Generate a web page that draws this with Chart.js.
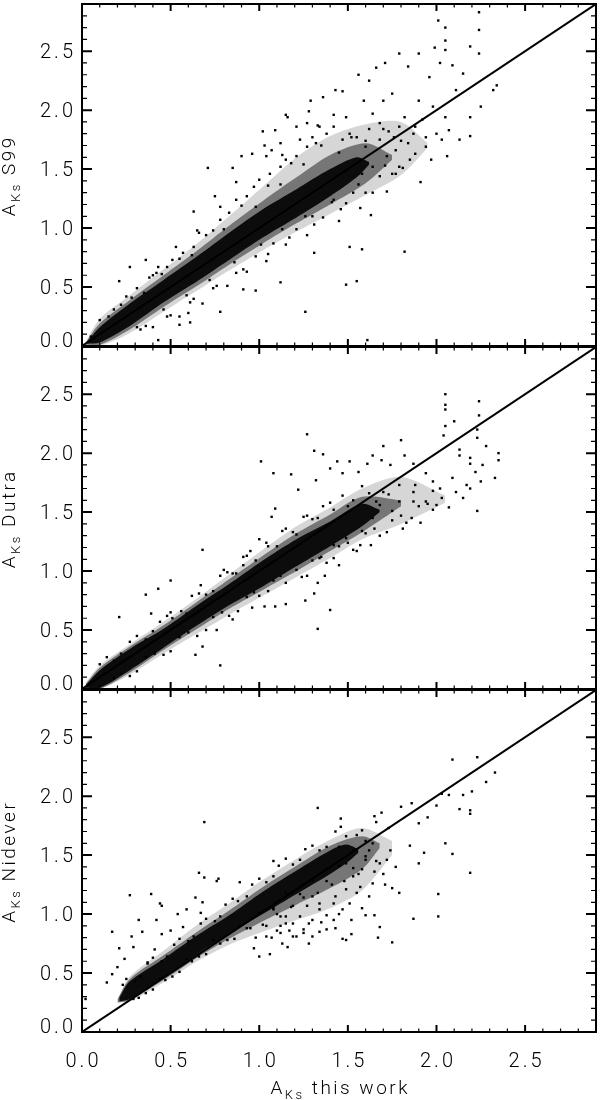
<!DOCTYPE html>
<html>
<head>
<meta charset="utf-8">
<script src="https://cdn.jsdelivr.net/npm/chart.js@4.4.1/dist/chart.umd.min.js"></script>
<style>
  html, body { margin: 0; padding: 0; background: #fff; }
  #wrap { position: relative; width: 600px; height: 1100px; }
  #wrap canvas { position: absolute; left: 0; }
</style>
</head>
<body>
<div id="wrap">
  <canvas id="p1" width="600" height="350" style="top:0px"></canvas>
  <canvas id="p2" width="600" height="350" style="top:343px"></canvas>
  <canvas id="p3" width="600" height="414" style="top:686px"></canvas>
</div>
<script>
// axis ticks / labels
const tickValues = [0, 0.5, 1.0, 1.5, 2.0, 2.5];
const tickLabels = ['0.0', '0.5', '1.0', '1.5', '2.0', '2.5'];
const axisMax = 2.9;
const panelNames = ['S99', 'Dutra', 'Nidever'];
const xTitleRest = ' this work';

// one-to-one line
const oneToOneX = [0, 2.9];
const oneToOneY = [0, 2.9];

// --- S99 panel: dense core, medium and thin envelopes, single stars ---
const s99CoreX  = [0.03, 0.10, 0.27, 0.46, 0.65, 0.83, 1.02, 1.21, 1.40, 1.55, 1.62];
const s99CoreLo = [0.02, 0.03, 0.17, 0.37, 0.55, 0.73, 0.92, 1.09, 1.27, 1.43, 1.54];
const s99CoreHi = [0.04, 0.16, 0.36, 0.56, 0.76, 0.96, 1.16, 1.33, 1.50, 1.60, 1.56];
const s99MidX   = [0.02, 0.10, 0.27, 0.46, 0.65, 0.83, 1.02, 1.21, 1.40, 1.60, 1.75];
const s99MidLo  = [0.01, 0.01, 0.14, 0.33, 0.51, 0.69, 0.87, 1.04, 1.20, 1.38, 1.58];
const s99MidHi  = [0.03, 0.19, 0.39, 0.60, 0.81, 1.02, 1.23, 1.43, 1.62, 1.72, 1.62];
const s99HaloX  = [0.02, 0.10, 0.27, 0.46, 0.65, 0.83, 1.02, 1.21, 1.40, 1.60, 1.80, 1.95];
const s99HaloLo = [0.01, 0.00, 0.11, 0.29, 0.47, 0.64, 0.81, 0.97, 1.12, 1.28, 1.45, 1.68];
const s99HaloHi = [0.03, 0.23, 0.43, 0.65, 0.87, 1.10, 1.35, 1.60, 1.78, 1.88, 1.90, 1.72];
const s99Points = [
  [0.21,0.55],[0.36,0.73],[0.43,0.67],[0.40,0.60],[0.43,0.05],[0.55,0.18],[0.61,0.20],[0.60,0.28],[0.78,0.29],[0.63,1.14],
  [0.71,1.51],[0.75,1.27],[0.85,1.51],[0.91,0.48],[0.98,0.47],[1.12,0.54],[1.26,0.29],[1.31,0.79],[1.49,0.52],[1.55,0.55],
  [1.51,0.84],[1.58,0.82],[1.61,0.05],[1.63,1.11],[1.82,0.80],[1.91,1.39],[2.06,1.61],[2.19,1.78],[2.24,2.83],[2.01,2.76],
  [2.05,2.70],[2.05,2.59],[2.05,2.51],[1.99,2.53],[2.24,2.68],[2.19,2.54],[2.24,2.48],[1.90,2.48],[1.79,2.48],[1.71,2.40],
  [1.66,2.36],[1.56,2.30],[1.62,2.25],[1.84,2.37],[1.96,2.28],[2.02,2.40],[2.09,2.38],[2.15,2.31],[2.32,2.17],[2.25,2.03],
  [2.34,2.21],[2.19,1.94],[2.13,1.75],[2.07,1.83],[2.03,1.75],[1.97,1.58],[1.94,1.69],[1.87,1.80],[1.79,1.52],[1.43,2.17],
  [1.47,2.16],[1.36,2.11],[1.29,2.08],[1.16,1.94],[1.02,1.82],[1.09,1.83],[1.03,1.70],[0.96,1.63],[0.90,1.61],[1.07,1.66],
  [1.13,1.62],[1.27,1.89],[1.30,1.77],[1.34,1.86],[1.42,1.96],[1.49,1.94],[1.51,1.80],[1.59,2.08],[1.64,1.97],[1.70,2.08],
  [1.75,2.14],[1.82,1.94],[1.76,1.77],[1.68,1.75],[1.60,1.69],[1.92,1.92],[1.98,2.03],[1.90,2.08],[2.11,2.17],
  [1.15,1.96],[1.21,1.86],[1.28,1.99],[1.33,1.87],[1.38,1.80],[1.42,1.86],[1.47,1.75],[1.55,1.77],[1.62,1.84],[1.68,1.89],
  [1.73,1.82],[1.79,1.86],[1.84,1.72],[1.88,1.63],[1.94,1.77],[2.00,1.80],[2.05,1.94],[1.85,1.58],[1.77,1.66],[1.72,1.61],
  [1.64,1.52],[1.58,1.46],[1.68,1.44],[1.75,1.46],[1.81,1.51],[1.72,1.31],[1.64,1.30],[1.57,1.17],[1.49,1.21],[1.45,1.06],
  [1.53,1.30],[1.42,1.24],[1.36,1.09],[1.30,1.10],[1.27,0.94],[1.21,0.99],[1.15,0.86],[1.08,0.87],[1.04,0.72],[0.98,0.76],
  [0.93,0.63],[0.87,0.62],[0.82,0.51],[0.74,0.49],[0.68,0.36],[0.61,0.37],[0.55,0.25],[0.48,0.25],[0.40,0.16],[0.33,0.14],
  [0.18,0.31],[0.25,0.42],[0.31,0.49],[0.35,0.45],[0.42,0.62],[0.48,0.67],[0.51,0.73],[0.57,0.79],[0.63,0.84],[0.66,0.96],
  [0.74,0.98],[0.78,1.07],[0.83,1.13],[0.87,1.24],[0.93,1.27],[0.97,1.35],[1.00,1.41],[1.06,1.46],[1.12,1.52],[1.15,1.58],
  [1.21,1.61],[1.27,1.69],[1.32,1.72],[1.23,1.75],[1.12,1.72],[1.04,1.61],[0.87,1.39],[0.78,1.18],[0.65,0.98],[0.53,0.84],
  [0.27,0.67],[0.10,0.22],[0.05,0.08],
  [0.15,0.25],[0.22,0.35],[0.31,0.16],[0.36,0.17],[0.46,0.31],[0.50,0.26],[0.59,0.43],[0.63,0.40],[0.72,0.56],[0.76,0.51],
  [0.86,0.71],[0.91,0.65],[1.01,0.86],[1.05,0.78],[1.13,0.99],[1.17,0.92],[1.26,1.10],[1.31,1.03],[1.41,1.22],[1.46,1.16],
  [1.56,1.37],[1.60,1.30],[1.71,1.53],[1.77,1.46],[0.28,0.41],[0.38,0.58],[0.45,0.61],[0.55,0.74],[0.62,0.77],[0.70,0.94],
  [0.80,0.99],[0.90,1.19],[0.98,1.18],[1.05,1.36],[1.12,1.37],[1.18,1.55],[1.25,1.54],[1.35,1.70],[1.45,1.64],[1.52,1.77],
  [1.60,1.74],[1.70,1.84],[1.80,1.74],[1.88,1.86]
];

// --- Dutra panel ---
const dutraCoreX  = [0.02, 0.10, 0.27, 0.46, 0.65, 0.83, 1.02, 1.21, 1.40, 1.58, 1.68];
const dutraCoreLo = [0.01, 0.01, 0.16, 0.35, 0.54, 0.71, 0.87, 1.04, 1.21, 1.38, 1.50];
const dutraCoreHi = [0.03, 0.16, 0.34, 0.51, 0.71, 0.89, 1.09, 1.27, 1.42, 1.57, 1.52];
const dutraMidX   = [0.02, 0.10, 0.27, 0.46, 0.65, 0.83, 1.02, 1.21, 1.40, 1.58, 1.80];
const dutraMidLo  = [0.00, 0.00, 0.14, 0.33, 0.51, 0.68, 0.84, 1.00, 1.17, 1.33, 1.55];
const dutraMidHi  = [0.04, 0.18, 0.36, 0.54, 0.74, 0.93, 1.13, 1.32, 1.48, 1.63, 1.60];
const dutraHaloX  = [0.02, 0.10, 0.27, 0.46, 0.65, 0.83, 1.02, 1.21, 1.40, 1.58, 1.80, 2.05];
const dutraHaloLo = [0.00, 0.00, 0.12, 0.30, 0.47, 0.63, 0.79, 0.95, 1.11, 1.27, 1.40, 1.58];
const dutraHaloHi = [0.05, 0.20, 0.38, 0.57, 0.77, 0.97, 1.18, 1.38, 1.54, 1.70, 1.80, 1.64];
const dutraPoints = [
  [0.21,0.61],[0.36,0.80],[0.39,0.64],[0.43,0.85],[0.50,0.92],[0.50,0.65],[0.67,0.88],[0.68,1.18],[0.64,0.29],[0.78,0.20],
  [0.68,0.36],[0.76,0.50],[1.01,1.93],[1.08,1.83],[1.18,1.82],[1.22,1.69],[1.27,2.16],[1.31,2.02],[1.36,1.99],[1.32,1.77],
  [1.40,1.87],[1.44,1.93],[1.47,1.83],[1.51,1.93],[1.56,1.84],[1.61,1.91],[1.64,1.98],[1.70,2.06],[1.80,2.11],[1.69,1.94],
  [1.74,1.90],[1.82,1.98],[1.87,1.91],[2.05,2.50],[2.05,2.41],[2.05,2.37],[2.05,2.23],[2.10,2.27],[2.04,2.15],[2.24,2.44],
  [2.24,2.32],[2.23,2.20],[2.23,2.13],[2.28,2.06],[2.35,2.00],[2.35,1.94],[2.33,1.79],[2.25,1.76],[2.19,1.70],[2.19,1.91],
  [2.19,1.96],[2.15,1.62],[2.23,1.51],[2.07,1.54],[2.13,1.98],[2.13,2.03],[1.91,1.41],[1.81,1.36],[1.63,1.22],[1.55,1.17],
  [1.45,1.05],[1.40,0.67],[1.33,0.51],[1.31,0.81],[1.26,0.75],[1.37,0.96],[1.33,0.90],[1.15,0.72],[1.09,0.70],[1.03,0.70],
  [0.96,0.69],[0.85,0.59],[1.07,1.46],[1.09,1.53],[1.00,1.27],[0.91,1.12],[0.80,1.01],[0.91,1.05],[1.94,1.59],[1.98,1.68],
  [2.03,1.62],[1.87,1.59],[1.88,1.73],[1.98,1.76],[1.94,1.83],[1.79,1.73],[1.79,1.59],[1.75,1.51],[1.68,1.56],[1.64,1.45],
  [1.58,1.34],[1.49,1.28],[1.42,1.22],[1.34,1.11],
  [0.10,0.21],[0.18,0.24],[0.27,0.40],[0.36,0.42],[0.44,0.57],[0.51,0.60],[0.59,0.64],[0.66,0.81],[0.74,0.83],[0.82,0.99],
  [0.87,0.98],[0.93,1.13],[0.98,1.09],[1.04,1.24],[1.10,1.21],[1.15,1.36],[1.21,1.31],[1.27,1.47],[1.30,1.44],[1.36,1.55],
  [1.42,1.52],[1.47,1.64],[1.53,1.60],[1.58,1.72],[1.62,1.66],[1.66,1.59],[1.70,1.67],[1.73,1.65],[0.18,0.09],[0.27,0.11],
  [0.36,0.27],[0.46,0.29],[0.55,0.44],[0.65,0.45],[0.74,0.61],[0.83,0.62],[0.93,0.78],[1.00,0.79],[1.08,0.92],[1.15,0.90],
  [1.21,1.01],[1.27,0.96],[1.30,1.09],[1.38,1.07],[1.45,1.21],[1.53,1.18],[1.60,1.32],[1.68,1.30],[1.75,1.43],[1.83,1.41],
  [1.90,1.55],[1.98,1.52],[1.87,1.67],[2.02,1.70],[2.09,1.79],[2.11,1.67],[2.17,1.73],[2.22,1.84],[2.26,1.90],
  [0.14,0.27],[0.22,0.30],[0.31,0.45],[0.40,0.49],[0.48,0.62],[0.56,0.66],[0.62,0.79],[0.70,0.80],[0.78,0.96],[0.85,0.98],
  [0.95,1.17],[1.05,1.21],[1.13,1.34],[1.19,1.33],[1.25,1.46],[1.33,1.45],[1.40,1.58],[1.50,1.55],[0.22,0.13],[0.31,0.15],
  [0.41,0.30],[0.50,0.32],[0.60,0.48],[0.70,0.50],[0.79,0.65],[0.88,0.66],[0.97,0.82],[1.05,0.83],[1.12,0.96],[1.24,0.95],
  [1.35,1.12],[1.42,1.11],[1.50,1.24],[1.57,1.22],[1.65,1.36],[1.72,1.33],[1.80,1.47],[1.86,1.45],[1.95,1.57],[2.00,1.56]
];

// --- Nidever panel ---
const nideverCoreX  = [0.21, 0.27, 0.46, 0.65, 0.83, 1.02, 1.21, 1.40, 1.49, 1.56];
const nideverCoreLo = [0.26, 0.28, 0.46, 0.66, 0.83, 1.00, 1.17, 1.34, 1.43, 1.52];
const nideverCoreHi = [0.29, 0.43, 0.62, 0.82, 0.99, 1.19, 1.37, 1.54, 1.59, 1.55];
const nideverMidX   = [0.20, 0.27, 0.46, 0.65, 0.83, 1.02, 1.21, 1.40, 1.58, 1.68];
const nideverMidLo  = [0.25, 0.27, 0.44, 0.63, 0.79, 0.94, 1.08, 1.22, 1.38, 1.56];
const nideverMidHi  = [0.28, 0.45, 0.65, 0.85, 1.03, 1.23, 1.41, 1.58, 1.66, 1.60];
const nideverHaloX  = [0.20, 0.27, 0.46, 0.65, 0.83, 1.02, 1.21, 1.40, 1.58, 1.75];
const nideverHaloLo = [0.25, 0.26, 0.42, 0.60, 0.74, 0.85, 0.95, 1.05, 1.20, 1.50];
const nideverHaloHi = [0.27, 0.47, 0.69, 0.91, 1.09, 1.29, 1.47, 1.63, 1.73, 1.62];
const nideverPoints = [
  [0.02,0.28],[0.17,0.85],[0.14,0.42],[0.17,0.49],[0.20,0.55],[0.21,0.71],[0.24,0.62],[0.27,1.16],[0.28,0.81],[0.29,0.72],
  [0.32,0.95],[0.34,0.85],[0.37,0.59],[0.39,1.17],[0.41,0.70],[0.42,0.95],[0.45,0.83],[0.44,1.09],[0.45,1.07],[0.50,0.86],
  [0.54,1.00],[0.57,0.89],[0.59,1.04],[0.64,1.14],[0.66,1.35],[0.67,1.01],[0.69,1.31],[0.69,1.78],[0.68,1.10],[0.76,1.28],
  [0.77,1.30],[0.89,1.27],[1.08,1.45],[1.33,1.90],[1.46,1.81],[1.46,1.74],[1.58,1.71],[1.65,1.83],[1.69,1.86],[1.66,1.78],
  [1.73,1.73],[1.80,1.91],[1.86,1.94],[1.90,1.77],[1.95,1.82],[2.00,1.92],[2.03,2.02],[2.09,2.31],[2.07,2.01],[2.15,2.01],
  [2.13,1.89],[2.19,1.88],[2.19,1.85],[2.23,2.33],[2.28,2.12],[2.33,2.20],[2.20,2.04],[2.05,1.60],[2.09,1.51],[2.19,1.35],
  [2.01,1.17],[2.01,0.98],[1.90,1.43],[1.93,1.52],[1.85,1.58],[1.79,1.18],[1.75,1.22],[1.71,1.25],[1.75,0.76],[1.87,0.96],
  [1.68,0.89],[1.67,0.80],[1.65,0.99],[1.60,0.99],[1.62,1.15],[1.58,1.05],[1.49,0.78],[1.47,0.79],[1.52,0.83],[1.43,0.88],
  [1.38,0.99],[1.34,0.85],[1.28,0.75],[1.25,0.87],[1.16,0.72],[1.12,0.84],[1.06,0.66],[1.00,0.64],[0.97,0.71],[0.98,0.80],
  [1.07,0.80],[1.19,0.81],[1.28,0.92],[1.51,1.09],[1.55,1.18],[1.47,1.04],[1.42,1.09],[1.34,1.04],[1.30,1.15],[1.23,0.98],
  [1.19,1.07],[1.15,0.92],[1.12,0.98],[1.08,1.04],[1.04,0.90],[1.53,1.32],[1.58,1.38],[1.60,1.49],[1.64,1.60],[1.68,1.43],
  [1.74,1.54],[1.77,1.40],[1.53,1.54],[1.49,1.43],[1.45,1.57],
  [0.25,0.45],[0.33,0.47],[0.40,0.63],[0.48,0.64],[0.55,0.79],[0.63,0.81],[0.70,0.96],[0.78,0.98],[0.85,1.13],[0.93,1.15],
  [1.00,1.30],[1.08,1.32],[1.15,1.47],[1.23,1.46],[1.30,1.58],[1.38,1.57],[1.43,1.70],[1.49,1.66],[1.55,1.67],[1.60,1.62],
  [0.29,0.28],[0.36,0.33],[0.44,0.45],[0.51,0.47],[0.59,0.62],[0.66,0.64],[0.74,0.78],[0.82,0.78],[0.89,0.90],[0.93,0.88],
  [1.00,1.01],[1.08,1.05],[1.15,1.18],[1.23,1.17],[1.30,1.29],[1.38,1.28],[1.45,1.41],[1.53,1.39],[1.60,1.46],[1.66,1.45],
  [1.62,1.54],[1.04,0.81],[1.13,0.75],[1.21,0.81],[1.30,0.81],[1.38,0.87],[1.42,0.95],[1.30,0.95],[1.19,0.92],[1.12,0.90],
  [1.15,0.98],[1.27,1.07],[1.34,1.09],[1.43,1.15],[1.49,1.21],[1.57,1.23],[1.64,1.26],
  [0.23,0.40],[0.30,0.43],[0.37,0.58],[0.45,0.60],[0.52,0.74],[0.60,0.77],[0.67,0.92],[0.75,0.94],[0.81,1.08],[0.88,1.11],
  [0.96,1.25],[1.04,1.27],[1.11,1.41],[1.19,1.42],[1.26,1.55],[1.34,1.54],[0.32,0.29],[0.40,0.36],[0.47,0.44],[0.55,0.51],
  [0.62,0.60],[0.70,0.66],[0.78,0.75],[0.86,0.79],[0.95,0.88],[1.02,0.91],[1.10,1.00],[1.18,1.06],[1.25,1.14],[1.33,1.18],
  [1.41,1.25],[1.48,1.28],[1.56,1.34],[1.65,1.36],[1.70,1.34],[1.72,1.46],[1.10,0.86],[1.17,0.86],[1.25,0.84],[1.35,0.93],
  [1.45,1.00],[1.52,0.95]
];

const FONT_FAMILY = 'Roboto, "Liberation Sans", sans-serif';
const tickFont = '300 20px ' + FONT_FAMILY;
const titleFont = '300 19px ' + FONT_FAMILY;
const subFont = '300 13px ' + FONT_FAMILY;

function drawSpaced(ctx, text, x, y, align, spacing) {
  ctx.letterSpacing = spacing + 'px';
  const w = ctx.measureText(text).width - spacing;
  const left = align === 'center' ? x - w / 2 : (align === 'right' ? x - w : x);
  ctx.textAlign = 'left';
  ctx.fillText(text, left, y);
  ctx.letterSpacing = '0px';
}

// "A" with subscript "Ks", then the rest, centred on x with baseline y
function drawAks(ctx, rest, x, y) {
  const sp = 2.5;
  ctx.letterSpacing = sp + 'px';
  ctx.font = titleFont;
  const wA = ctx.measureText('A').width;
  const wR = ctx.measureText(rest).width;
  ctx.font = subFont;
  const wS = ctx.measureText('Ks').width;
  const left = x - (wA + wS + wR - sp) / 2;
  ctx.textAlign = 'left';
  ctx.font = titleFont;
  ctx.fillText('A', left, y);
  ctx.font = subFont;
  ctx.fillText('Ks', left + wA, y + 5);
  ctx.font = titleFont;
  ctx.fillText(rest, left + wA + wS, y);
  ctx.letterSpacing = '0px';
}

const idlAxes = {
  id: 'idlAxes',
  afterDraw(chart, args, opts) {
    const { ctx, chartArea: a } = chart;
    const sx = chart.scales.x, sy = chart.scales.y;
    ctx.save();
    ctx.strokeStyle = '#000';
    ctx.fillStyle = '#000';
    for (let i = 1; i < 29; i++) {
      const major = i % 5 === 0;
      const px = sx.getPixelForValue(i / 10);
      const py = sy.getPixelForValue(i / 10);
      const lx = major ? 7 : 3.5, ly = major ? 10 : 5;
      ctx.lineWidth = major ? 2 : 1.2;
      ctx.beginPath();
      ctx.moveTo(px, a.bottom); ctx.lineTo(px, a.bottom - lx);
      ctx.moveTo(px, a.top); ctx.lineTo(px, a.top + lx);
      ctx.moveTo(a.left, py); ctx.lineTo(a.left + ly, py);
      ctx.moveTo(a.right, py); ctx.lineTo(a.right - ly, py);
      ctx.stroke();
    }
    ctx.lineWidth = 2;
    ctx.strokeRect(a.left, a.top, a.right - a.left, a.bottom - a.top);

    // y tick labels
    ctx.font = tickFont;
    const capHalf = 7;
    tickValues.forEach((v, i) => {
      const py = sy.getPixelForValue(v);
      const base = v === 0 ? a.bottom + 1 : py + capHalf;
      drawSpaced(ctx, tickLabels[i], a.left - 9, base, 'right', 3);
    });

    // y title (rotated)
    ctx.save();
    ctx.translate(15, (a.top + a.bottom) / 2 + 2);
    ctx.rotate(-Math.PI / 2);
    drawAks(ctx, ' ' + opts.name, 0, 0);
    ctx.restore();

    if (opts.xAxis) {
      ctx.font = tickFont;
      tickValues.forEach((v, i) => {
        drawSpaced(ctx, tickLabels[i], sx.getPixelForValue(v), a.bottom + 35, 'center', 3);
      });
      drawAks(ctx, xTitleRest, (a.left + a.right) / 2, a.bottom + 62);
    }
    ctx.restore();
  }
};

function band(xs, ys) {
  return xs.map((x, i) => ({ x: x, y: ys[i] }));
}

function makePanel(id, name, points, core, mid, halo, xAxis) {
  const canvas = document.getElementById(id);
  const edge = { showLine: true, pointRadius: 0, borderWidth: 1, tension: 0.3, borderColor: 'rgba(0,0,0,0)' };
  const layers = [[halo, 'rgba(0,0,0,0.16)'], [mid, 'rgba(0,0,0,0.45)'], [core, 'rgba(0,0,0,0.9)']];
  const datasets = [];
  layers.forEach(([b, color]) => {
    datasets.push(Object.assign({ data: band(b[0], b[1]), fill: false }, edge));
    datasets.push(Object.assign({ data: band(b[0], b[2]), fill: '-1', backgroundColor: color }, edge));
  });
  datasets.push({
    data: points.map(p => ({ x: p[0], y: p[1] })),
    pointStyle: 'rect',
    pointRadius: 1.7,
    backgroundColor: '#000',
    borderWidth: 0,
    showLine: false
  });
  datasets.push({
    data: band(oneToOneX, oneToOneY),
    showLine: true,
    borderColor: '#000',
    borderWidth: 2,
    pointRadius: 0,
    fill: false
  });
  new Chart(canvas, {
    type: 'scatter',
    data: { datasets: datasets },
    options: {
      responsive: false,
      animation: false,
      events: [],
      layout: { padding: { left: 82, right: 3, top: 3, bottom: xAxis ? 68 : 4 } },
      scales: {
        x: { type: 'linear', min: 0, max: axisMax, display: false },
        y: { type: 'linear', min: 0, max: axisMax, display: false }
      },
      plugins: {
        legend: { display: false },
        tooltip: { enabled: false },
        idlAxes: { name: name, xAxis: xAxis }
      }
    },
    plugins: [idlAxes]
  });
}

makePanel('p1', panelNames[0], s99Points,
  [s99CoreX, s99CoreLo, s99CoreHi], [s99MidX, s99MidLo, s99MidHi], [s99HaloX, s99HaloLo, s99HaloHi], false);
makePanel('p2', panelNames[1], dutraPoints,
  [dutraCoreX, dutraCoreLo, dutraCoreHi], [dutraMidX, dutraMidLo, dutraMidHi], [dutraHaloX, dutraHaloLo, dutraHaloHi], false);
makePanel('p3', panelNames[2], nideverPoints,
  [nideverCoreX, nideverCoreLo, nideverCoreHi], [nideverMidX, nideverMidLo, nideverMidHi], [nideverHaloX, nideverHaloLo, nideverHaloHi], true);
</script>
</body>
</html>
